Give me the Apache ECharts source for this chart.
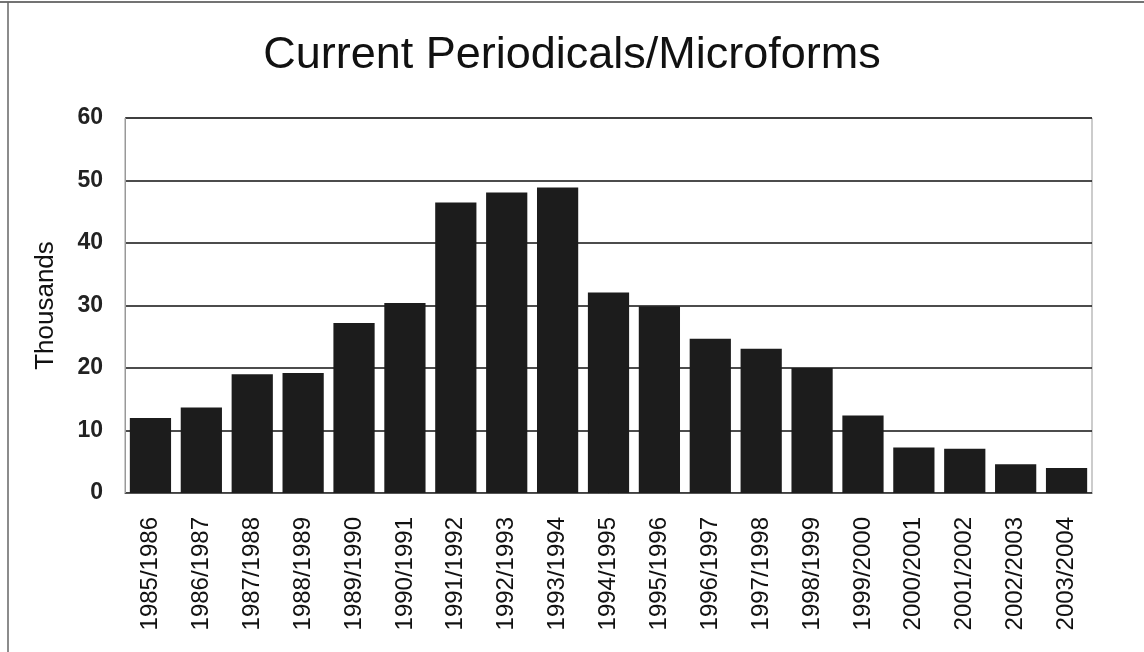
<!DOCTYPE html>
<html>
<head>
<meta charset="utf-8">
<title>Current Periodicals/Microforms</title>
<script src="https://cdn.jsdelivr.net/npm/echarts@6/dist/echarts.min.js"></script>
<style>
  html, body { margin: 0; padding: 0; background: #fff; }
  #chart { width: 1144px; height: 652px; }
</style>
</head>
<body>
<div id="chart"></div>
<script>
// academic years
const years = [
  '1985/1986', '1986/1987', '1987/1988', '1988/1989', '1989/1990',
  '1990/1991', '1991/1992', '1992/1993', '1993/1994', '1994/1995',
  '1995/1996', '1996/1997', '1997/1998', '1998/1999', '1999/2000',
  '2000/2001', '2001/2002', '2002/2003', '2003/2004'
]
// in thousands
const periodicals = [
  12.0, 13.7, 19.0, 19.2, 27.2,
  30.4, 46.5, 48.1, 48.9, 32.1,
  29.9, 24.7, 23.1, 20.0, 12.4,
  7.3, 7.1, 4.6, 4.0
]
const yTicks = [0, 10, 20, 30, 40, 50, 60]

const font = 'Liberation Sans, Arial, sans-serif'
const chart = echarts.init(document.getElementById('chart'))

chart.setOption({
  backgroundColor: '#fff',
  animation: false,
  title: {
    text: 'Current Periodicals/Microforms',
    left: 'center',
    top: 28,
    textStyle: { fontFamily: font, fontSize: 45, fontWeight: 'normal', color: '#111' }
  },
  grid: {
    left: 125,
    right: 52,
    top: 118,
    bottom: 159,
    show: true,
    borderColor: '#999',
    borderWidth: 1
  },
  xAxis: {
    type: 'category',
    data: years,
    axisLine: { show: true, lineStyle: { color: '#555' } },
    axisTick: { show: false },
    axisLabel: {
      rotate: 90,
      interval: 0,
      margin: 24,
      fontFamily: font,
      fontSize: 24,
      color: '#111'
    }
  },
  yAxis: {
    type: 'value',
    min: yTicks[0],
    max: yTicks[yTicks.length - 1],
    interval: 10,
    name: 'Thousands',
    nameLocation: 'middle',
    nameGap: 66,
    nameTextStyle: { fontFamily: font, fontSize: 26, color: '#111' },
    axisLine: { show: true, lineStyle: { color: '#999' } },
    axisTick: { show: false },
    axisLabel: { fontFamily: font, fontSize: 23, fontWeight: 'bold', color: '#222', margin: 22 },
    splitLine: { show: true, lineStyle: { color: '#111', width: 1.5 } }
  },
  series: [
    {
      type: 'bar',
      data: periodicals,
      barCategoryGap: '19%',
      itemStyle: { color: '#1c1c1c' }
    }
  ],
  graphic: [
    // outer frame, only top and left edges show in the scan
    { type: 'line', shape: { x1: 0, y1: 2, x2: 1144, y2: 2 }, style: { stroke: '#444', lineWidth: 1.5 } },
    { type: 'line', shape: { x1: 8, y1: 2, x2: 8, y2: 652 }, style: { stroke: '#666', lineWidth: 1.5 } }
  ]
})
</script>
</body>
</html>
